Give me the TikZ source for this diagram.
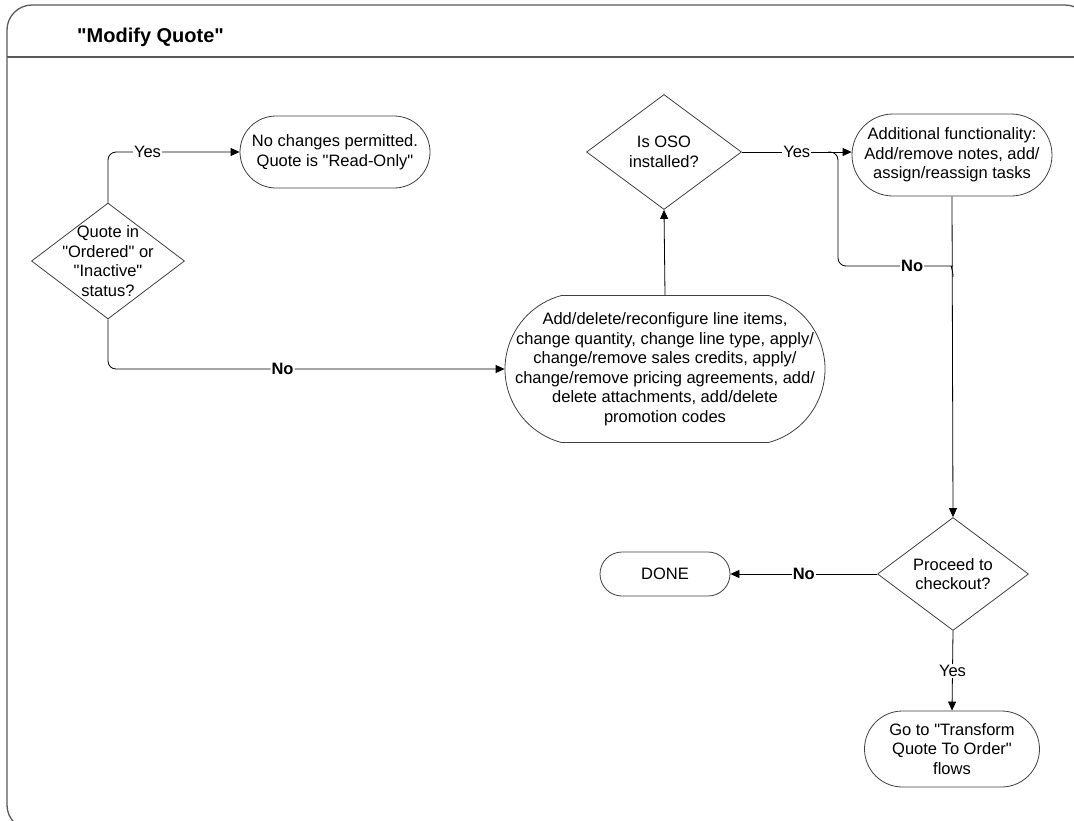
\documentclass[tikz,border=0pt]{standalone}
\usepackage{fontspec}
\setmainfont{Liberation Sans}
\usetikzlibrary{shapes.geometric,shapes.misc,arrows.meta}
\newcommand{\qq}{\textquotedbl}
\begin{document}
\begin{tikzpicture}[x=1pt,y=-1pt,
  every node/.style={font=\fontsize{16.5}{19.5}\selectfont},
  shapeline/.style={draw=black!75, line width=0.8pt, fill=white},
  decision/.style={shapeline, diamond, inner sep=0pt},
  term/.style={shapeline, rounded rectangle, inner sep=0pt},
  txt/.style={align=center, inner sep=0pt},
  conn/.style={draw=black, line width=0.8pt, -{Triangle[length=9pt,width=8pt]}},
  plainline/.style={draw=black, line width=0.8pt},
  lab/.style={fill=white, inner sep=1pt},
  nolab/.style={lab, font=\bfseries\fontsize{16.5}{20}\selectfont},
  frameline/.style={draw=black!65, line width=1.3pt}]
\useasboundingbox (0,0) rectangle (1074,820);
% frame
\draw[frameline, rounded corners=25pt] (7,5) rectangle (1090,830);
\draw[frameline] (7,57) -- (1074,57);
\node[anchor=west, inner sep=0pt, font=\bfseries\fontsize{20}{24}\selectfont] (title) at (77,37) {\qq Modify Quote\qq};
% nodes
\node[decision, minimum width=153pt, minimum height=116pt,
  label={[txt]center:{Quote in\\\qq Ordered\qq{} or\\\qq Inactive\qq\\status?}}] (d1) at (108,261) {};
\node[term, minimum width=190pt, minimum height=72pt,
  label={[txt]center:{No changes permitted.\\Quote is \qq Read-Only\qq}}] (n1) at (335,152) {};
\node[term, rounded rectangle arc length=150, minimum width=320pt, minimum height=147pt,
  label={[txt]center:{Add/delete/reconfigure line items,\\change quantity, change line type, apply/\\change/remove sales credits, apply/\\change/remove pricing agreements, add/\\delete attachments, add/delete\\promotion codes}}] (big) at (665,369) {};
\node[decision, minimum width=155pt, minimum height=115pt,
  label={[txt]center:{Is OSO\\installed?}}] (d2) at (664,152) {};
\node[term, minimum width=200pt, minimum height=82pt,
  label={[txt]center:{Additional functionality:\\Add/remove notes, add/\\assign/reassign tasks}}] (A) at (952,155) {};
\node[decision, minimum width=151pt, minimum height=113pt,
  label={[txt]center:{Proceed to\\checkout?}}] (d3) at (953,574) {};
\node[term, minimum width=130pt, minimum height=44pt,
  label={[txt]center:{DONE}}] (done) at (665,574) {};
\node[term, minimum width=175pt, minimum height=76pt,
  label={[txt]center:{Go to \qq Transform\\Quote To Order\qq\\flows}}] (goto) at (952,749) {};
\coordinate (br) at (828,152);
\coordinate (mg) at (953,277);
% connectors
\draw[conn, rounded corners=8pt] (d1.north) |- node[lab, pos=0.65]{Yes} (n1.west);
\draw[conn, rounded corners=8pt] (d1.south) |- node[nolab, pos=0.72]{No} (big.west);
\draw[conn] (big.north) -- (d2.south);
\draw[conn] (d2.east) -- node[lab]{Yes} (A.west |- d2.east);
\draw[plainline, rounded corners=8pt] (br) -| (838,266) -- node[nolab, pos=0.7]{No} (944,266) .. controls (950,266) and (953,269) .. (mg);
\draw[conn] (A.south) -- (d3.north);
\draw[conn] (d3.west) -- node[nolab]{No} (done.east);
\draw[conn] (d3.south) -- node[lab]{Yes} (goto.north);
\end{tikzpicture}
\end{document}
